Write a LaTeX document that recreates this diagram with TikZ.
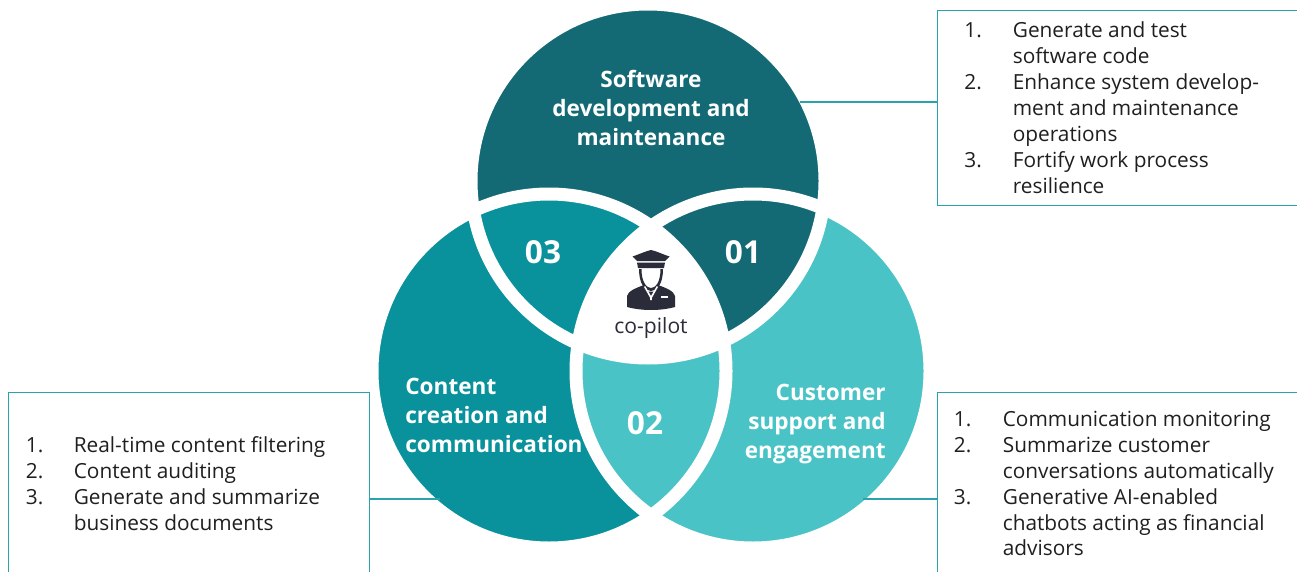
\documentclass[tikz,border=0pt]{standalone}
\usepackage{fontspec}
\setmainfont{Open Sans}
\usepackage{array}
\definecolor{softcol}{HTML}{136A75}
\definecolor{contcol}{HTML}{0A929C}
\definecolor{custcol}{HTML}{4AC3C6}
\definecolor{linecol}{HTML}{2AA3AC}
\definecolor{pilotcol}{HTML}{2A2C3A}
\tikzset{
  ringline/.style={draw=white, line width=0.26cm},
  boxnode/.style={draw=linecol, line width=0.8pt, inner sep=0pt, anchor=north west},
  listnode/.style={anchor=west, inner sep=0pt, font=\fontsize{11.85}{14.75}\selectfont, text=black!88},
  titlenode/.style={text=white, inner sep=0pt, font=\fontsize{12.85}{16.5}\selectfont\bfseries},
  numnode/.style={text=white, inner sep=0pt, font=\fontsize{18}{20}\selectfont\bfseries},
  linkline/.style={draw=linecol, line width=0.7pt}
}
\begin{document}
\begin{tikzpicture}[x=0.02cm, y=-0.02cm]
    % 1 unit = one pixel of the reference, y running downwards
    \useasboundingbox (0,0) rectangle (1297,571);

    % centres of the three circles
    \coordinate (softc) at (648,181);
    \coordinate (contc) at (549,371);
    \coordinate (custc) at (753,371);

    % filled circles
    \fill[softcol] (softc) circle (177);
    \fill[contcol] (contc) circle (177);
    \fill[custcol] (custc) circle (177);
    % overlap 01 takes the colour of the top circle
    \begin{scope}
        \clip (custc) circle (177);
        \fill[softcol] (softc) circle (177);
    \end{scope}
    % white centre
    \begin{scope}
        \clip (softc) circle (177);
        \clip (contc) circle (177);
        \fill[white] (custc) circle (177);
    \end{scope}
    % white rings
    \draw[ringline] (softc) circle (177);
    \draw[ringline] (contc) circle (177);
    \draw[ringline] (custc) circle (177);

    % titles and numbers
    \node[titlenode, align=center] (softtitle) at (651,107.5) {Software\\development and\\maintenance};
    \node[titlenode, align=left, anchor=west] (conttitle) at (405,415.5) {Content\\creation and\\communication};
    \node[titlenode, align=right, anchor=east] (custtitle) at (886,424.5) {Customer\\support and\\engagement};
    \node[numnode] (num1) at (743,252) {01};
    \node[numnode] (num2) at (645,423) {02};
    \node[numnode] (num3) at (543,252) {03};

    % pilot
    \begin{scope}[pilotcol]
        % cap
        \fill (632.5,256.5) .. controls (640,254) and (646,251) .. (651,250)
              .. controls (656,251) and (662,254) .. (669.5,256.5)
              -- (665,261) -- (637,261) -- cycle;
        \fill (637,262.5) -- (665,262.5) -- (664,268) -- (638,268) -- cycle;
        % head
        \fill (639,269) -- (641.5,269) .. controls (641.5,283) and (647,288) .. (651,288)
              .. controls (655,288) and (660.5,283) .. (660.5,269) -- (663,269)
              .. controls (663,284) and (657,291) .. (651,291)
              .. controls (645,291) and (639,284) .. (639,269) -- cycle;
        % body
        \fill (627,307) -- (627,296) .. controls (628,291) and (636,288) .. (644,285)
              -- (651,298) -- (658,285) .. controls (666,288) and (674,291) .. (675,296)
              -- (675,307) .. controls (660,311) and (642,311) .. (627,307) -- cycle;
        % tie
        \fill (648,291.5) -- (654,291.5) -- (655,298) -- (651,308) -- (647,298) -- cycle;
    \end{scope}
    \fill[white] (661,296) rectangle (668,297.5);
    \fill[white] (650.2,298) -- (644,287) -- (645.2,286) -- (651,296) -- (656.8,286) -- (658,287) -- (651.8,298) -- (651.8,300) -- (650.2,300) -- cycle;
    \node[inner sep=0pt, text=pilotcol, font=\fontsize{12}{14}\selectfont] (pilot) at (651,328) {co-pilot};

    % text boxes
    \node[boxnode, minimum width=7.22cm, minimum height=3.9cm] (softbox) at (937,10) {};
    \node[boxnode, minimum width=7.22cm, minimum height=3.6cm] (contbox) at (8,392) {};
    \node[boxnode, minimum width=7.22cm, minimum height=3.6cm] (custbox) at (937,392) {};

    \node[listnode] (softlist) at (964,110.5) {\begin{tabular}{@{}p{0.97cm}@{}l@{}}
        1. & Generate and test\\
           & software code\\
        2. & Enhance system develop-\\
           & ment and maintenance\\
           & operations\\
        3. & Fortify work process\\
           & resilience
    \end{tabular}};
    \node[listnode] (contlist) at (25.5,486) {\begin{tabular}{@{}p{0.96cm}@{}l@{}}
        1. & Real-time content filtering\\
        2. & Content auditing\\
        3. & Generate and summarize\\
           & business documents
    \end{tabular}};
    \node[listnode] (custlist) at (953.5,486) {\begin{tabular}{@{}p{0.98cm}@{}l@{}}
        1. & Communication monitoring\\
        2. & Summarize customer\\
           & conversations automatically\\
        3. & Generative AI-enabled\\
           & chatbots acting as financial\\
           & advisors
    \end{tabular}};

    % links from the circles to the boxes
    \coordinate (softend) at (800,102);
    \coordinate (contend) at (440,499);
    \coordinate (custend) at (863,499);
    \draw[linkline] (softend) -- (softend-|softbox.west);
    \draw[linkline] (contend) -- (contend-|contbox.east);
    \draw[linkline] (custend) -- (custend-|custbox.west);
\end{tikzpicture}
\end{document}
